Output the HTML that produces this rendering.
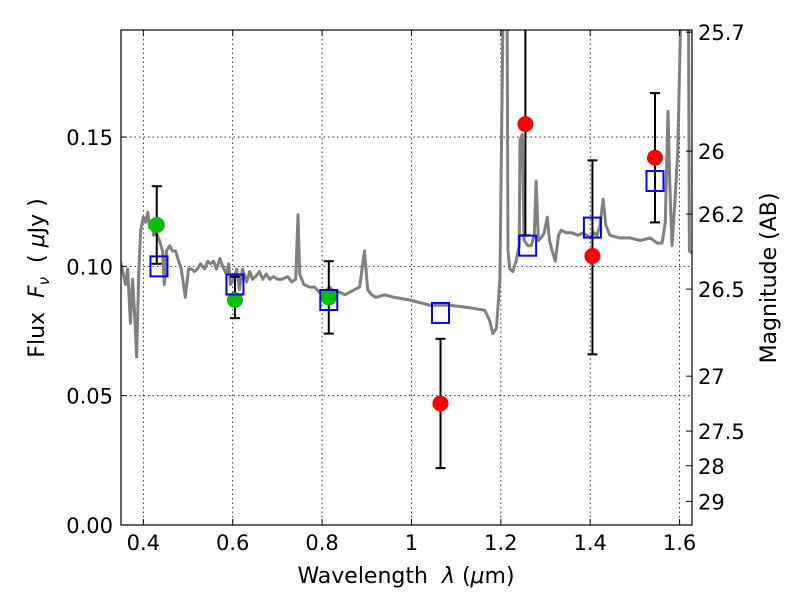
<!DOCTYPE html>
<html><head><meta charset="utf-8"><style>
body{margin:0;background:#fff}
svg{display:block;font-family:"DejaVu Sans","Liberation Sans",sans-serif}
</style></head><body>
<svg id="chart" width="800" height="600">
<defs><clipPath id="clip"><rect x="121" y="30" width="571" height="495"/></clipPath></defs>
<g id="grid"></g>
<g id="spec" clip-path="url(#clip)"></g>
<g id="marks" clip-path="url(#clip)"></g>
<rect x="121" y="30" width="571" height="495" fill="none" stroke="#000" stroke-width="1.2"/>
<g id="axes"></g>
<text x="406" y="583" font-size="22" text-anchor="middle">Wavelength&#160;&#160;<tspan font-style="italic">λ</tspan> (<tspan font-style="italic">μ</tspan>m)</text>
<text transform="translate(44,278) rotate(-90)" font-size="22" text-anchor="middle">Flux&#160;&#160;<tspan font-style="italic">F</tspan><tspan font-style="italic" font-size="15" dy="5">ν</tspan><tspan dy="-5">&#160;&#160;( </tspan><tspan font-style="italic">μ</tspan>Jy )</text>
<text transform="translate(776,278) rotate(-90)" font-size="22" text-anchor="middle">Magnitude (AB)</text>
</svg>
<script>
const xTicks=[0.4,0.6,0.8,1.0,1.2,1.4,1.6];
const xTickLabels=["0.4","0.6","0.8","1","1.2","1.4","1.6"];
const yTicks=[0,0.05,0.10,0.15];
const yTickLabels=["0.00","0.05","0.10","0.15"];
const magTicks=[25.7,26,26.2,26.5,27,27.5,28,29];
const specLam=[0.347,0.353,0.36,0.365,0.371,0.376,0.38,0.385,0.39,0.394,0.4,0.405,0.41,0.414,0.419,0.423,0.428,0.436,0.443,0.447,0.452,0.459,0.465,0.472,0.479,0.485,0.494,0.501,0.508,0.514,0.521,0.528,0.537,0.544,0.55,0.557,0.564,0.571,0.58,0.586,0.591,0.595,0.602,0.609,0.615,0.622,0.631,0.638,0.644,0.651,0.66,0.667,0.675,0.683,0.691,0.701,0.71,0.723,0.732,0.741,0.746,0.75,0.759,0.772,0.783,0.794,0.806,0.817,0.828,0.84,0.851,0.884,0.895,0.902,0.911,0.92,0.94,0.962,0.996,1.041,1.086,1.131,1.164,1.175,1.182,1.19,1.198,1.205,1.209,1.214,1.216,1.22,1.227,1.234,1.241,1.243,1.248,1.252,1.261,1.268,1.275,1.279,1.284,1.29,1.297,1.304,1.309,1.315,1.322,1.329,1.335,1.346,1.359,1.373,1.384,1.393,1.4,1.409,1.415,1.422,1.429,1.435,1.444,1.467,1.489,1.512,1.534,1.55,1.561,1.568,1.574,1.578,1.583,1.59,1.596,1.603,1.61,1.614,1.62,1.622,1.63];
const specFlux=[0.103,0.099,0.093,0.099,0.078,0.095,0.083,0.065,0.099,0.114,0.119,0.117,0.121,0.115,0.117,0.112,0.113,0.110,0.106,0.093,0.106,0.108,0.106,0.106,0.102,0.099,0.088,0.099,0.099,0.098,0.099,0.101,0.099,0.102,0.101,0.102,0.099,0.103,0.099,0.097,0.101,0.093,0.095,0.099,0.091,0.099,0.094,0.098,0.095,0.096,0.098,0.095,0.097,0.095,0.096,0.095,0.095,0.096,0.094,0.095,0.120,0.097,0.093,0.092,0.092,0.090,0.090,0.092,0.090,0.090,0.089,0.092,0.106,0.091,0.089,0.088,0.089,0.088,0.087,0.085,0.085,0.084,0.083,0.079,0.074,0.076,0.095,0.2,0.2,0.2,0.106,0.099,0.098,0.102,0.108,0.149,0.151,0.110,0.108,0.108,0.112,0.133,0.110,0.111,0.113,0.119,0.110,0.106,0.102,0.112,0.114,0.113,0.113,0.112,0.113,0.112,0.111,0.113,0.112,0.116,0.126,0.116,0.112,0.111,0.111,0.110,0.111,0.109,0.109,0.117,0.160,0.133,0.108,0.126,0.145,0.2,0.2,0.2,0.2,0.106,0.105];
const greenLam=[0.43,0.605,0.815];
const greenFlux=[0.116,0.087,0.088];
const greenLo=[0.101,0.080,0.074];
const greenHi=[0.131,0.096,0.102];
const redLam=[1.065,1.255,1.405,1.545];
const redFlux=[0.047,0.155,0.104,0.142];
const redLo=[0.022,0.112,0.066,0.117];
const redHi=[0.072,0.25,0.141,0.167];
const modelLam=[0.435,0.605,0.815,1.065,1.26,1.405,1.545];
const modelFlux=[0.100,0.093,0.087,0.082,0.108,0.115,0.133];

const X0=121,X1=692,Y0=525,Y1=30,L0=0.35,L1=1.6278,F0=0,F1=0.1914;
const sx=l=>X0+(l-L0)/(L1-L0)*(X1-X0);
const sy=f=>Y0-(f-F0)/(F1-F0)*(Y0-Y1);
const NS="http://www.w3.org/2000/svg";
function mk(tag,attrs,parent){const e=document.createElementNS(NS,tag);for(const k in attrs)e.setAttribute(k,attrs[k]);parent.appendChild(e);return e;}
const grid=document.getElementById('grid'),axes=document.getElementById('axes'),spec=document.getElementById('spec'),marks=document.getElementById('marks');
xTicks.forEach((t,i)=>{const x=sx(t);
 const g=mk('line',{x1:x,x2:x,y1:Y1,y2:Y0,stroke:'#000','stroke-dasharray':'1.5,3','stroke-width':0.8},grid);
 
 
 mk('line',{x1:x,x2:x,y1:Y0,y2:Y0-6,stroke:'#000'},axes);mk('line',{x1:x,x2:x,y1:Y1,y2:Y1+6,stroke:'#000'},axes);
 const tx=mk('text',{x:x,y:Y0+25,'font-size':21,'text-anchor':'middle'},axes);tx.textContent=xTickLabels[i];
 
 });
yTicks.forEach((t,i)=>{const y=sy(t);
 const g=mk('line',{x1:X0,x2:X1,y1:y,y2:y,stroke:'#000','stroke-dasharray':'1.5,3','stroke-width':0.8},grid);
 
 
 mk('line',{x1:X0,x2:X0+6,y1:y,y2:y,stroke:'#000'},axes);
 const tx=mk('text',{x:X0-8,y:y+8,'font-size':21,'text-anchor':'end'},axes);tx.textContent=yTickLabels[i];
 
 });
magTicks.forEach(m=>{const y=sy(Math.pow(10,(23.9-m)/2.5));
 mk('line',{x1:X1,x2:X1-6,y1:y,y2:y,stroke:'#000'},axes);
 const tx=mk('text',{x:X1+6,y:y+8,'font-size':21},axes);tx.textContent=String(m);
 
 });
const pts=specLam.map((l,i)=>sx(l).toFixed(1)+','+sy(specFlux[i]).toFixed(1)).join(' ');
const pl=mk('polyline',{points:pts,fill:'none',stroke:'#808080','stroke-width':3,'stroke-linejoin':'round'},spec);


function err(l,lo,hi){const x=sx(l);mk('line',{x1:x,x2:x,y1:sy(lo),y2:sy(hi),stroke:'#000','stroke-width':2},marks);
 [lo,hi].forEach(v=>mk('line',{x1:x-5,x2:x+5,y1:sy(v),y2:sy(v),stroke:'#000','stroke-width':2},marks));}
greenLam.forEach((l,i)=>err(l,greenLo[i],greenHi[i]));
redLam.forEach((l,i)=>err(l,redLo[i],redHi[i]));
greenLam.forEach((l,i)=>{const c=mk('circle',{cx:sx(l),cy:sy(greenFlux[i]),r:8,fill:'#00c000'},marks);
 
 });
redLam.forEach((l,i)=>{const c=mk('circle',{cx:sx(l),cy:sy(redFlux[i]),r:8,fill:'#ff0000'},marks);
 
 });
modelLam.forEach((l,i)=>{const r=mk('rect',{x:sx(l)-8.5,y:sy(modelFlux[i])-10,width:17,height:20,fill:'none',stroke:'#0000ff','stroke-width':2},marks);
 
 });
</script>
</body></html>
